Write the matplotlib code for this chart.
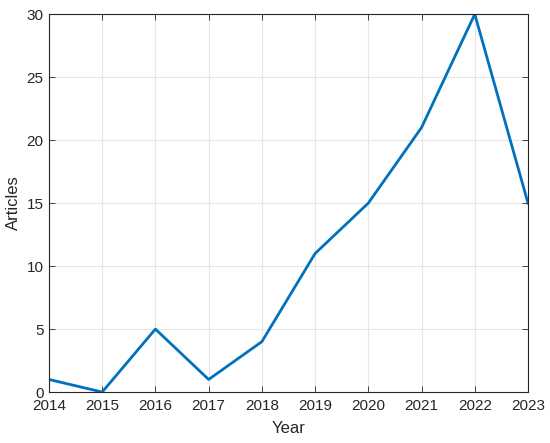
import matplotlib
matplotlib.use("Agg")
import matplotlib.pyplot as plt

years = [2014, 2015, 2016, 2017, 2018, 2019, 2020, 2021, 2022, 2023]
articles = [1, 0, 5, 1, 4, 11, 15, 21, 30, 15]

plt.rcParams['font.family'] = ['Liberation Sans', 'DejaVu Sans']
fig = plt.figure(figsize=(5.5, 4.43), dpi=100)
ax = fig.add_axes([0.089, 0.115, 0.871, 0.853])
ax.plot(years, articles, color='#0072BD', linewidth=2)
ax.set_xlim(2014, 2023)
ax.set_ylim(0, 30)
ax.set_xticks(years)
ax.set_yticks([0, 5, 10, 15, 20, 25, 30])
ax.grid(True, color='#e6e6e6', linewidth=0.8)
ax.set_axisbelow(True)
for s in ax.spines.values():
    s.set_color('#262626')
    s.set_linewidth(0.8)
ax.tick_params(direction='in', length=4, colors='#262626', labelsize=11, width=0.6, top=True, right=True)
ax.tick_params(axis='x', pad=5)
ax.tick_params(axis='y', pad=4)
ax.set_xlabel('Year', fontsize=12, color='#262626', labelpad=6)
ax.set_ylabel('Articles', fontsize=12, color='#262626', labelpad=4)
fig.savefig('out.png', dpi=100)
